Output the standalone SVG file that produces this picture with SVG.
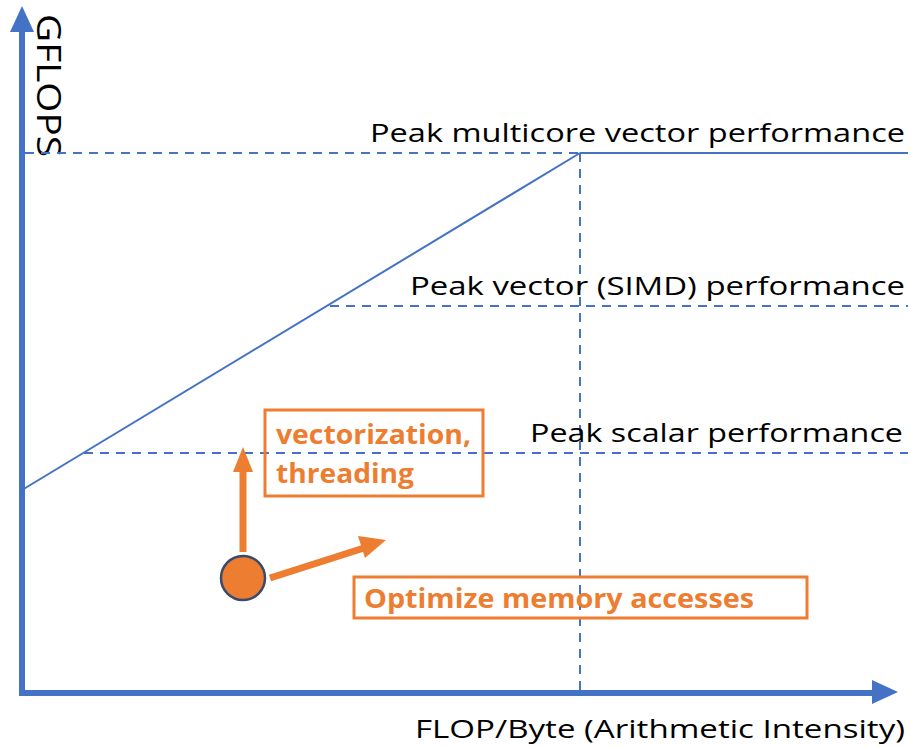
<svg xmlns="http://www.w3.org/2000/svg" width="911" height="747" viewBox="0 0 911 747">
<style>
.ax{stroke:#4472C4;stroke-width:6;fill:none}
.ln{stroke:#4472C4;stroke-width:2;fill:none}
.dash{stroke:#4472C4;stroke-width:2;fill:none;stroke-dasharray:9 7}
.lbl{font-family:"Open Sans","Noto Sans",sans-serif;font-size:26px;fill:#000}
.or{font-family:"Open Sans","Noto Sans",sans-serif;font-size:26px;font-weight:bold;fill:#ED7D31}
.box{fill:none;stroke:#ED7D31;stroke-width:3}
.oa{stroke:#ED7D31;stroke-width:7;fill:none}
</style>
<g id="axes">
<line class="ax" x1="22" y1="696" x2="22" y2="30"/>
<polygon points="22,6 10,32 34,32" fill="#4472C4"/>
<line class="ax" x1="19" y1="693" x2="875" y2="693"/>
<polygon points="898,692 872,680 872,704" fill="#4472C4"/>
<text class="lbl" style="font-size:32px" transform="translate(37,14) rotate(90)" textLength="143" lengthAdjust="spacingAndGlyphs">GFLOPS</text>
<text class="lbl" x="415" y="738" textLength="490" lengthAdjust="spacingAndGlyphs">FLOP/Byte (Arithmetic Intensity)</text>
</g>
<g id="connectors">
<line class="dash" x1="25" y1="153" x2="580" y2="153"/>
<line class="ln" x1="580" y1="153" x2="908" y2="153"/>
<line class="ln" x1="22" y1="490" x2="580" y2="153"/>
<line class="dash" x1="580" y1="153" x2="580" y2="693"/>
<line class="dash" x1="330" y1="306" x2="908" y2="306"/>
<line class="dash" x1="84" y1="453" x2="908" y2="453"/>
<line class="oa" x1="243" y1="552" x2="243" y2="470"/>
<polygon points="243,447 233,472 253,472" fill="#ED7D31"/>
<line class="oa" x1="270" y1="578" x2="364" y2="548"/>
<polygon points="386,540 358,536 365,558" fill="#ED7D31"/>
</g>
<g id="labels">
<text class="lbl" x="370" y="142" textLength="535" lengthAdjust="spacingAndGlyphs">Peak multicore vector performance</text>
<text class="lbl" x="410" y="295" textLength="495" lengthAdjust="spacingAndGlyphs">Peak vector (SIMD) performance</text>
<text class="lbl" x="530" y="442" textLength="373" lengthAdjust="spacingAndGlyphs">Peak scalar performance</text>
</g>
<g id="box-vectorization">
<rect class="box" x="265" y="410" width="218" height="86"/>
<text class="or" x="276" y="444" textLength="195" lengthAdjust="spacingAndGlyphs">vectorization,</text>
<text class="or" x="276" y="483" textLength="138" lengthAdjust="spacingAndGlyphs">threading</text>
</g>
<g id="point">
<circle cx="243" cy="578" r="22" fill="#ED7D31" stroke="#3B4A6B" stroke-width="2.5"/>
</g>
<g id="box-memory">
<rect class="box" x="354" y="577" width="453" height="41"/>
<text class="or" x="364" y="608" textLength="390" lengthAdjust="spacingAndGlyphs">Optimize memory accesses</text>
</g>
</svg>
